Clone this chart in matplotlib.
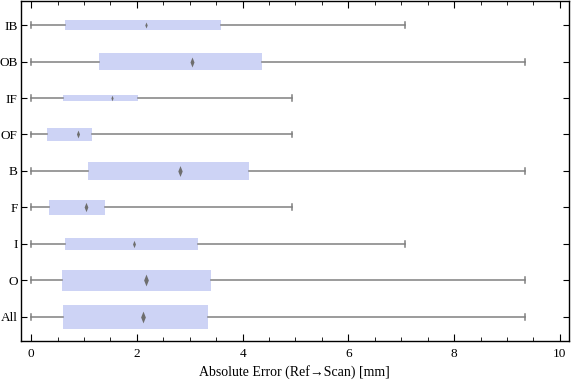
import matplotlib
matplotlib.use("Agg")
import matplotlib.pyplot as plt
from matplotlib.path import Path

labels = ["All", "O", "I", "F", "B", "OF", "IF", "OB", "IB"]
lo = [0.0, 0.0, 0.0, 0.0, 0.0, 0.0, 0.0, 0.0, 0.0]
q1 = [0.605, 0.587, 0.643, 0.34, 1.079, 0.303, 0.605, 1.287, 0.643]
med = [2.11, 2.17, 1.943, 1.04, 2.82, 0.89, 1.53, 3.05, 2.17]
q3 = [3.35, 3.405, 3.16, 1.40, 4.125, 1.154, 2.02, 4.37, 3.595]
hi = [9.35, 9.35, 7.08, 4.93, 9.35, 4.93, 4.93, 9.35, 7.08]
widths = [0.66, 0.575, 0.33, 0.42, 0.49, 0.35, 0.19, 0.45, 0.27]

plt.rcParams['font.family'] = ['Liberation Serif', 'DejaVu Serif']
plt.rcParams['font.size'] = 9.5

fig = plt.figure(figsize=(5.76, 3.81), dpi=100)
ax = fig.add_axes([0.0356, 0.105, 0.952, 0.893])

pos = list(range(1, len(labels) + 1))
stats = []
for i in range(len(labels)):
    stats.append(dict(med=med[i], q1=q1[i], q3=q3[i], whislo=lo[i], whishi=hi[i]))

ax.bxp(stats, positions=pos, widths=widths, vert=False, patch_artist=True,
       showfliers=False, capwidths=0.16,
       boxprops=dict(facecolor="#cdd3f5", edgecolor="none", linewidth=0),
       whiskerprops=dict(color="#808080", linewidth=1.1),
       capprops=dict(color="#808080", linewidth=1.1),
       medianprops=dict(linewidth=0))

# thin diamond marker for the median
diamond = Path([(0, 1), (0.4, 0), (0, -1), (-0.4, 0), (0, 1)],
               [Path.MOVETO, Path.LINETO, Path.LINETO, Path.LINETO, Path.CLOSEPOLY])
for i in range(len(labels)):
    ms = max(4, min(8.5, widths[i] * 16))
    ax.plot(med[i], pos[i], marker=diamond, color="#6e6e6e", markersize=ms,
            markeredgewidth=0, linestyle="none")

ax.set_ylim(0.33, 9.67)
ax.set_xlim(-0.2, 10.17)
ax.set_yticks(pos)
ax.set_yticklabels(labels)
ax.set_xticks([0, 2, 4, 6, 8, 10])
ax.set_xticks([i * 0.5 for i in range(21)], minor=True)
ax.tick_params(axis="x", which="major", direction="in", length=5, width=0.8,
               top=True, bottom=True, pad=5)
ax.tick_params(axis="x", which="minor", direction="in", length=3, width=0.6,
               top=True, bottom=True)
ax.tick_params(axis="y", which="major", direction="in", length=4, width=0.8,
               left=True, right=True, pad=2)
for s in ax.spines.values():
    s.set_linewidth(1.0)

ax.set_xlabel("Absolute Error (Ref\u2192Scan) [mm]", labelpad=4, fontsize=10)

fig.savefig("out.png", dpi=100)
